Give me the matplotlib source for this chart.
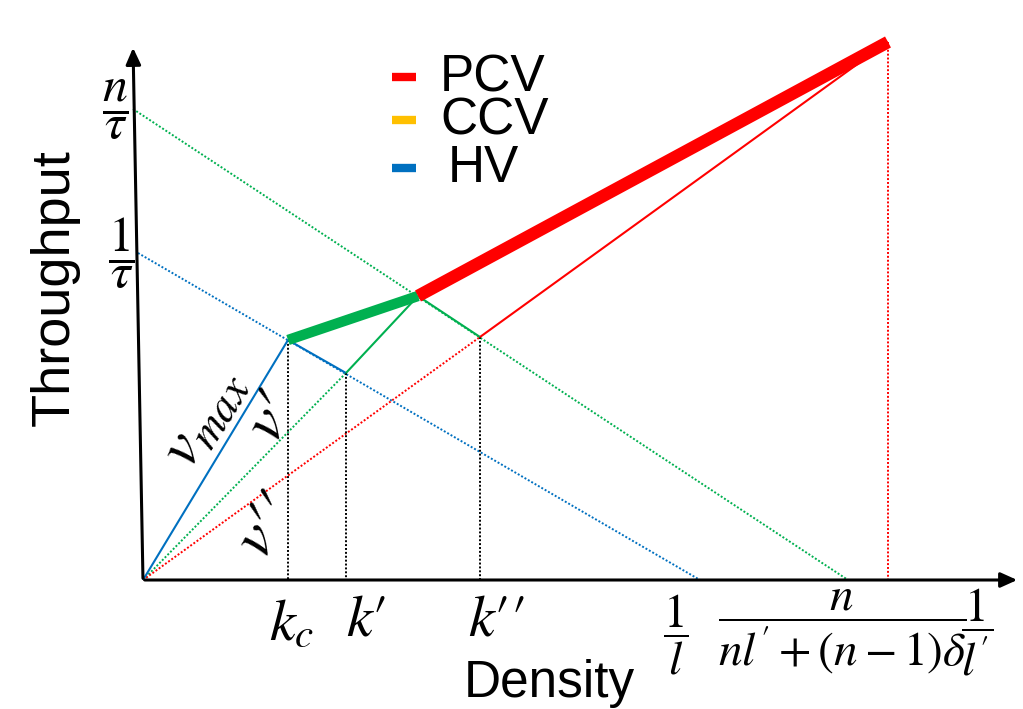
import matplotlib
matplotlib.use('Agg')
import matplotlib.pyplot as plt

plt.rcParams['mathtext.fontset'] = 'stix'
plt.rcParams['font.family'] = ['Liberation Sans', 'DejaVu Sans']

# key points of the schematic (density, throughput)
origin = (0, 0)
k_c = (145, 240)        # HV critical point
k_p = (203, 207)        # k'
k_j = (275, 284)        # CCV -> PCV junction
k_pp = (337, 243)       # k''
k_top = (745, 538)      # PCV end
q_hv = (-5, 327)        # 1/tau intercept
q_cav = (-10, 471)      # n/tau intercept
hv_end = (557, 0)
cav_end = (705, 0)
y_top = (-10, 535)
x_end = 877

BLUE, GREEN, RED, YELLOW = '#0070C0', '#00B050', '#FF0000', '#FFC000'
legend_names = ['PCV', 'CCV', 'HV']
legend_colors = [RED, YELLOW, BLUE]

fig = plt.figure(figsize=(10.23, 7.09), dpi=100)
ax = fig.add_axes([0, 0, 1, 1])
ax.set_xlim(-143, 880)
ax.set_ylim(-129, 580)
ax.axis('off')

def seg(p, q, **kw):
    ax.plot([p[0], q[0]], [p[1], q[1]], solid_capstyle='butt', **kw)

dot = dict(linestyle=(0, (1, 1)), lw=1.4)
# dotted helper lines
seg(q_hv, hv_end, color=BLUE, **dot)
seg(q_cav, cav_end, color=GREEN, **dot)
seg(origin, k_p, color=GREEN, **dot)
seg(origin, k_pp, color=RED, **dot)
seg(k_top, (k_top[0], 0), color=RED, **dot)
for p in (k_c, k_p, k_pp):
    seg(p, (p[0], 0), color='black', **dot)

# solid segments
seg(origin, k_c, color=BLUE, lw=1.5)
seg(k_c, k_p, color=BLUE, lw=1.5)
seg(k_p, k_j, color=GREEN, lw=1.5)
seg(k_j, k_pp, color=GREEN, lw=1.5)
seg(k_pp, k_top, color=RED, lw=1.5)
seg(k_c, k_j, color=GREEN, lw=7.5)
seg(k_j, k_top, color=RED, lw=9)

# axes with arrows
ax.annotate('', xy=(x_end, 0), xytext=(-1, 0),
            arrowprops=dict(arrowstyle='-|>,head_length=1.0,head_width=0.45', color='black', lw=2.2))
ax.annotate('', xy=y_top, xytext=(0, -1),
            arrowprops=dict(arrowstyle='-|>,head_length=1.0,head_width=0.45', color='black', lw=2.2))

ax.text(-88, 292, 'Throughput', rotation=90, fontsize=39, ha='center', va='center')
ax.text(406, -104, 'Density', fontsize=37, ha='center', va='center')

# legend
leg_y = [503, 460, 412]
for name, c, y in zip(legend_names, legend_colors, leg_y):
    ax.plot([249, 273], [y, y], color=c, lw=6, solid_capstyle='butt')
    ax.text(297 if name != 'HV' else 305, y - 1, name, fontsize=37, ha='left', va='center')

serif = 'STIXGeneral'
# y ticks
ax.text(-27, 470, r'$\dfrac{n}{\tau}$', fontsize=36, ha='center', va='center')
ax.text(-22, 327, r'$\dfrac{1}{\tau}$', fontsize=36, ha='center', va='center')

# x ticks
ax.text(k_c[0] + 4, -45, r'$k_c$', fontsize=42, ha='center', va='center')
ax.text(k_p[0] + 20, -42, '$k$\u2032', fontsize=42, ha='center', va='center', family=serif)
ax.text(k_pp[0] + 17, -42, '$k$\u2032\u2032', fontsize=42, ha='center', va='center', family=serif)
ax.text(533, -55, r'$\dfrac{1}{l}$', fontsize=34, ha='center', va='center')
ax.text(699, -52, r"$\dfrac{n}{nl^{\prime}+(n-1)\delta}$", fontsize=34, ha='center', va='center')
ax.text(834, -52, r"$\dfrac{1}{l^{\prime}}$", fontsize=34, ha='center', va='center')

# slope labels
ax.text(60, 162, r'$v_{max}$', rotation=58, fontsize=46, ha='center', va='center')
ax.text(130, 160, '$v$\u2032', rotation=55, fontsize=46, ha='center', va='center', family=serif)
ax.text(125, 52, '$v$\u2032\u2032', rotation=52, fontsize=46, ha='center', va='center', family=serif)

fig.savefig('out.png', dpi=100)
